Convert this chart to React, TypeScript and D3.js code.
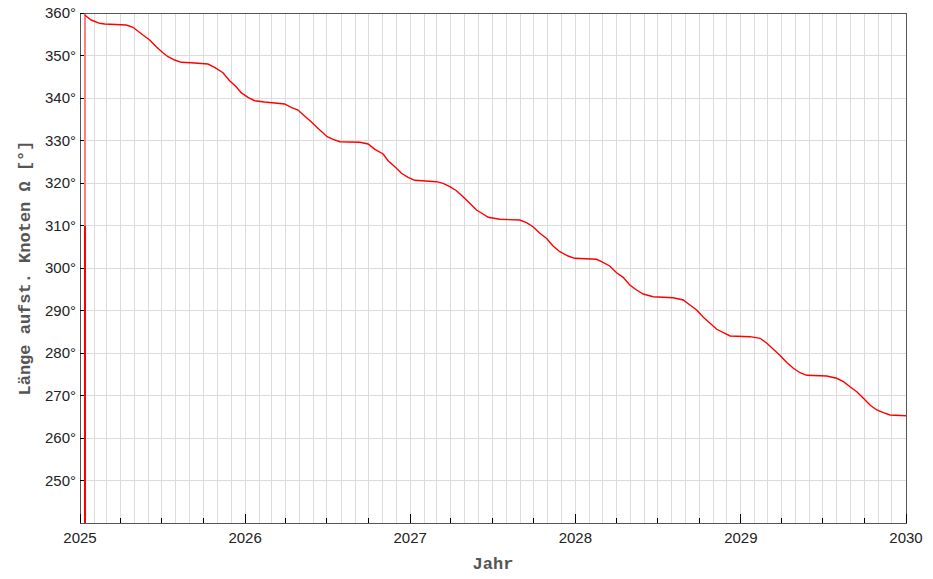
import React from "react";
import * as d3 from "d3";

// Decimal year and ascending node longitude (degrees)
const years: number[] = [
  2025.028, 2025.068, 2025.119, 2025.15, 2025.28, 2025.321, 2025.381, 2025.422, 2025.462, 2025.502,
  2025.533, 2025.573, 2025.613, 2025.674, 2025.775, 2025.815, 2025.866, 2025.906, 2025.946, 2025.976,
  2026.017, 2026.058, 2026.118, 2026.239, 2026.279, 2026.32, 2026.36, 2026.4, 2026.441, 2026.497,
  2026.533, 2026.574, 2026.695, 2026.745, 2026.786, 2026.836, 2026.866, 2026.907, 2026.947, 2026.987,
  2027.028, 2027.159, 2027.199, 2027.24, 2027.28, 2027.32, 2027.361, 2027.401, 2027.441, 2027.472,
  2027.542, 2027.663, 2027.704, 2027.744, 2027.785, 2027.825, 2027.865, 2027.906, 2027.956, 2027.996,
  2028.128, 2028.158, 2028.208, 2028.249, 2028.289, 2028.329, 2028.37, 2028.41, 2028.47, 2028.591,
  2028.652, 2028.692, 2028.733, 2028.773, 2028.814, 2028.854, 2028.894, 2028.935, 2029.056, 2029.116,
  2029.157, 2029.197, 2029.237, 2029.278, 2029.318, 2029.358, 2029.399, 2029.52, 2029.58, 2029.621,
  2029.661, 2029.702, 2029.742, 2029.782, 2029.823, 2029.863, 2029.903, 2030.0,
];
const nodeLongitude: number[] = [
  359.53, 358.35, 357.58, 357.41, 357.18, 356.64, 354.82, 353.65, 352.07, 350.66,
  349.72, 348.94, 348.4, 348.31, 348.0, 347.22, 345.95, 344.07, 342.66, 341.25,
  340.16, 339.36, 339.06, 338.59, 337.81, 337.18, 335.76, 334.42, 332.87, 330.89,
  330.28, 329.72, 329.58, 329.18, 327.93, 326.82, 325.25, 323.84, 322.28, 321.34,
  320.64, 320.31, 319.93, 319.13, 318.19, 316.78, 315.22, 313.65, 312.71, 311.93,
  311.46, 311.29, 310.66, 309.72, 308.16, 306.99, 305.18, 303.84, 302.82, 302.28,
  302.05, 301.48, 300.47, 298.89, 297.81, 296.0, 294.82, 293.88, 293.25, 293.01,
  292.47, 291.29, 290.12, 288.4, 286.99, 285.58, 284.78, 284.0, 283.84, 283.46,
  282.28, 280.87, 279.41, 277.76, 276.4, 275.36, 274.75, 274.59, 274.05, 273.25,
  272.07, 270.89, 269.34, 267.76, 266.59, 265.95, 265.41, 265.25,
];
// wrap-around from ~0° to 360° at the start of the series
const wrapYear = 2025.03;
const wrapSplit = 310;

const yTicks: number[] = [250, 260, 270, 280, 290, 300, 310, 320, 330, 340, 350, 360];
const yGrid: number[] = [250, 260, 270, 280, 290, 300, 310, 320, 330, 340, 350, 360];
const yearLabels: number[] = [2025, 2026, 2027, 2028, 2029, 2030];
const xTitle = "Jahr";
const yTitle = "Länge aufst. Knoten Ω [°]";

const W = 933, H = 579;
const M = { left: 80, right: 906, top: 13, bottom: 523 };

function yearToDate(y: number): Date {
  const f = Math.floor(y);
  const a = Date.UTC(f, 0, 1);
  const b = Date.UTC(f + 1, 0, 1);
  return new Date(a + (y - f) * (b - a));
}

export default function App() {
  const x = d3.scaleUtc()
    .domain([new Date(Date.UTC(2025, 0, 1)), new Date(Date.UTC(2030, 0, 1))])
    .range([M.left, M.right]);
  const y = d3.scaleLinear().domain([240, 360]).range([M.bottom, M.top]);

  const data = years.map((yr, i) => [yearToDate(yr), nodeLongitude[i]] as [Date, number]);
  const line = d3.line<[Date, number]>().x(d => x(d[0])).y(d => y(d[1]));

  const months = d3.utcMonth.range(new Date(Date.UTC(2025, 1, 1)), new Date(Date.UTC(2030, 0, 1)));
  const quarters = months.filter(m => m.getUTCMonth() % 3 === 0 && m.getUTCMonth() !== 0);
  const yearDates = yearLabels.map(yr => new Date(Date.UTC(yr, 0, 1)));
  const wx = Math.round(x(yearToDate(wrapYear)));

  const axisColor = "#555";
  const gridColor = "#dcdcdc";

  return (
    <svg width={W} height={H} style={{ position: "absolute", left: 0, top: 0, background: "#fff" }}>
      <defs>
        <clipPath id="plot">
          <rect x={M.left} y={M.top} width={M.right - M.left} height={M.bottom - M.top} />
        </clipPath>
      </defs>
      <rect x={0} y={0} width={W} height={H} fill="#fff" />
      {/* grid */}
      {months.map((m, i) => (
        <line key={"vg" + i} x1={x(m)} x2={x(m)} y1={M.top} y2={M.bottom} stroke={gridColor} strokeWidth={1} shapeRendering="crispEdges" />
      ))}
      {yGrid.map(v => (
        <line key={"hg" + v} x1={M.left} x2={M.right} y1={y(v)} y2={y(v)} stroke={gridColor} strokeWidth={1} shapeRendering="crispEdges" />
      ))}
      {/* data */}
      <g clipPath="url(#plot)">
        <line x1={wx} x2={wx} y1={y(360)} y2={y(wrapSplit)} stroke="#ff8080" strokeWidth={2} shapeRendering="crispEdges" />
        <line x1={wx} x2={wx} y1={y(wrapSplit)} y2={y(240)} stroke="#ff0000" strokeWidth={2} shapeRendering="crispEdges" />
        <path d={line(data) || ""} fill="none" stroke="#ff0000" strokeWidth={1.4} />
      </g>
      {/* frame */}
      <rect x={M.left} y={M.top} width={M.right - M.left} height={M.bottom - M.top} fill="none" stroke={axisColor} strokeWidth={1} shapeRendering="crispEdges" />
      {/* y ticks */}
      {yTicks.map(v => (
        <g key={"yt" + v}>
          <line x1={M.left} x2={M.left + 4} y1={y(v)} y2={y(v)} stroke="#000" strokeWidth={1} shapeRendering="crispEdges" />
          <text x={76} y={y(v)} dy="0.36em" textAnchor="end" fontFamily="'Liberation Sans', Arial, sans-serif" fontSize={15} fill="#222">{v}°</text>
        </g>
      ))}
      {/* x ticks */}
      {quarters.map((q, i) => (
        <line key={"qt" + i} x1={x(q)} x2={x(q)} y1={M.bottom - 5} y2={M.bottom} stroke="#000" strokeWidth={1} shapeRendering="crispEdges" />
      ))}
      {yearDates.map((d, i) => (
        <g key={"yl" + i}>
          <line x1={x(d)} x2={x(d)} y1={M.bottom - 9} y2={M.bottom} stroke="#000" strokeWidth={1} shapeRendering="crispEdges" />
          <text x={x(d)} y={542.5} textAnchor="middle" fontFamily="'Liberation Sans', Arial, sans-serif" fontSize={15} fill="#222">{yearLabels[i]}</text>
        </g>
      ))}
      {/* titles */}
      <text x={(M.left + M.right) / 2} y={569} textAnchor="middle" fontFamily="'Liberation Mono', 'Courier New', monospace" fontWeight="bold" fontSize={17} fill="#555">{xTitle}</text>
      <text transform={`translate(30,${(M.top + M.bottom) / 2}) rotate(-90)`} textAnchor="middle" fontFamily="'Liberation Mono', 'Courier New', monospace" fontWeight="bold" fontSize={17} fill="#555">{yTitle}</text>
    </svg>
  );
}
